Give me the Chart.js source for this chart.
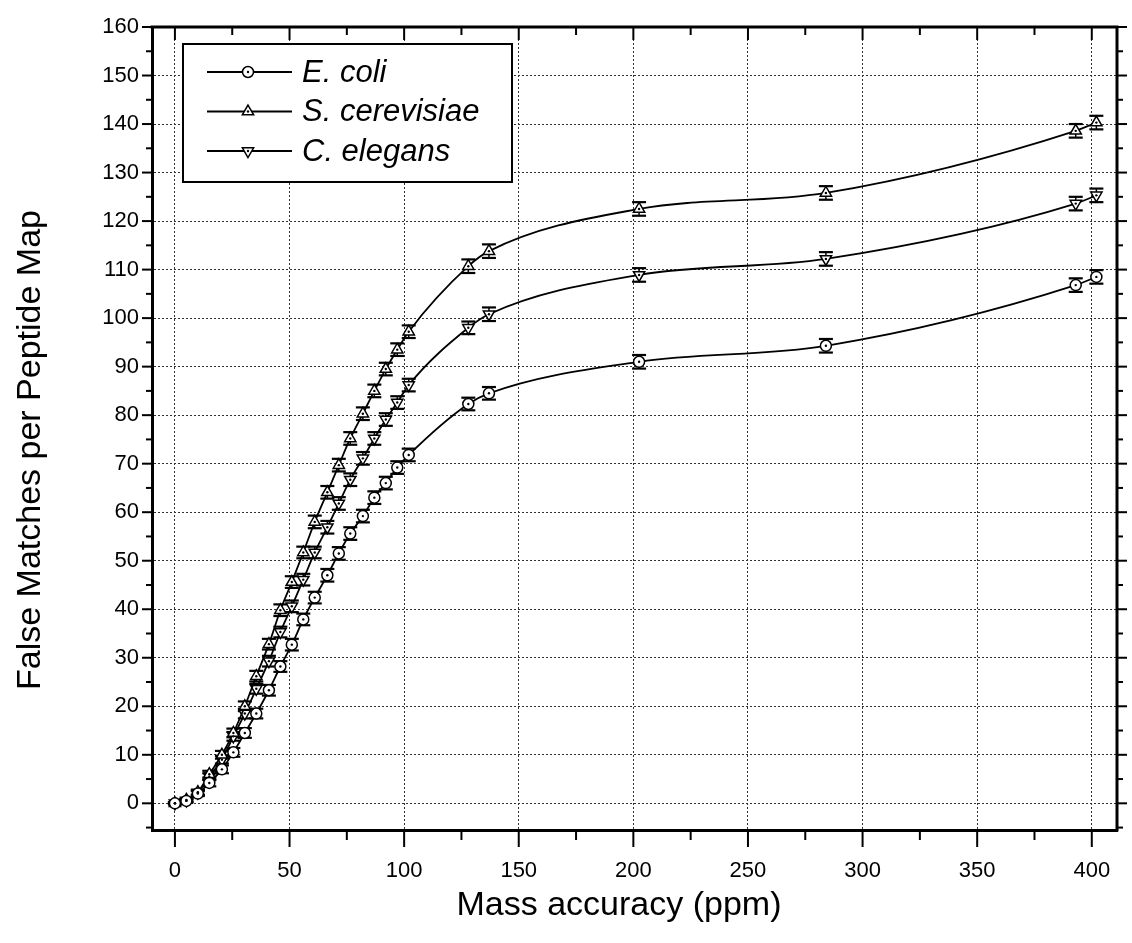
<!DOCTYPE html>
<html>
<head>
<meta charset="utf-8">
<title>False matches per peptide map vs mass accuracy</title>
<script src="https://cdn.jsdelivr.net/npm/chart.js@4.4.1/dist/chart.umd.min.js"></script>
<style>
  html, body { margin: 0; padding: 0; background: #fff; }
  #wrap { width: 1132px; height: 943px; }
</style>
</head>
<body>
<div id="wrap"><canvas id="fmChart" width="1132" height="943"></canvas></div>
<script>
// values (ppm on x, false matches on y)
const massPpm = [0, 5, 10, 15, 20.5, 25.5, 30.5, 35.5, 41, 46, 51, 56, 61, 66.5, 71.5, 76.5, 82, 87, 92, 97, 102, 128, 137, 202.5, 284, 393, 402];

const ecoli = [0, 0.5, 2, 4.2, 7, 10.5, 14.5, 18.5, 23.3, 28.2, 32.7, 37.9, 42.4, 47, 51.5, 55.6, 59.2, 63, 66, 69.2, 71.8, 82.3, 84.5, 91, 94.3, 106.8, 108.5];
const scerevisiae = [0, 0.7, 2.3, 6, 10, 14.5, 20, 26.2, 32.8, 39.8, 45.6, 51.7, 58, 64.1, 69.7, 75.2, 80.3, 85, 89.5, 93.5, 97.2, 110.7, 113.8, 122.5, 125.8, 138.6, 140.3];
const celegans = [0, 0.6, 2.2, 5.5, 9, 13.8, 18.5, 23.6, 29.3, 35.3, 40.6, 46.1, 51.7, 56.9, 61.8, 66.7, 71.1, 75.2, 79.1, 82.6, 86.2, 98, 100.8, 108.9, 112.2, 123.6, 125.3];

const ecoliErr = [0.2, 0.3, 0.5, 0.7, 0.8, 0.9, 1, 1, 1.1, 1.1, 1.2, 1.2, 1.2, 1.3, 1.3, 1.3, 1.3, 1.3, 1.3, 1.3, 1.3, 1.3, 1.3, 1.4, 1.4, 1.4, 1.4];
const scerevisiaeErr = [0.2, 0.3, 0.5, 0.7, 0.8, 0.9, 1, 1.1, 1.1, 1.2, 1.2, 1.2, 1.3, 1.3, 1.3, 1.3, 1.3, 1.3, 1.3, 1.3, 1.3, 1.4, 1.4, 1.4, 1.4, 1.4, 1.4];
const celegansErr = [0.2, 0.3, 0.5, 0.7, 0.8, 0.9, 1, 1, 1.1, 1.1, 1.2, 1.2, 1.2, 1.3, 1.3, 1.3, 1.3, 1.3, 1.3, 1.3, 1.3, 1.3, 1.4, 1.4, 1.4, 1.4, 1.4];

const xTickValues = [0, 50, 100, 150, 200, 250, 300, 350, 400];
const yTickValues = [0, 10, 20, 30, 40, 50, 60, 70, 80, 90, 100, 110, 120, 130, 140, 150, 160];

const xTitle = 'Mass accuracy (ppm)';
const yTitle = 'False Matches per Peptide Map';

const FONT = "'Liberation Sans', Arial, sans-serif";

const toPoints = (ys) => massPpm.map((x, i) => ({ x, y: ys[i] }));

const series = [
  { label: 'E. coli', data: ecoli, err: ecoliErr, style: 'circle', radius: 5.5, rotation: 0 },
  { label: 'S. cerevisiae', data: scerevisiae, err: scerevisiaeErr, style: 'triangle', radius: 6.5, rotation: 0 },
  { label: 'C. elegans', data: celegans, err: celegansErr, style: 'triangle', radius: 6.5, rotation: 180 },
];

function line(ctx, x1, y1, x2, y2) {
  ctx.beginPath();
  ctx.moveTo(x1, y1);
  ctx.lineTo(x2, y2);
  ctx.stroke();
}

// error bars go under the markers, the little centre dots on top
const errorBars = {
  id: 'errorBars',
  beforeDatasetsDraw(chart) {
    const { ctx, scales: { y } } = chart;
    ctx.save();
    ctx.strokeStyle = '#000';
    chart.data.datasets.forEach((ds, di) => {
      const meta = chart.getDatasetMeta(di);
      meta.data.forEach((pt, i) => {
        const e = ds.errorBars[i];
        const v = ds.data[i].y;
        const top = y.getPixelForValue(v + e);
        const bot = y.getPixelForValue(v - e);
        ctx.lineWidth = 1.5;
        line(ctx, pt.x, top, pt.x, bot);
        ctx.lineWidth = 2.2;
        line(ctx, pt.x - 7, top, pt.x + 7, top);
        line(ctx, pt.x - 7, bot, pt.x + 7, bot);
      });
    });
    ctx.restore();
  },
  afterDatasetsDraw(chart) {
    const { ctx } = chart;
    ctx.save();
    ctx.fillStyle = '#000';
    chart.data.datasets.forEach((ds, di) => {
      chart.getDatasetMeta(di).data.forEach((pt) => {
        ctx.beginPath();
        ctx.arc(pt.x, pt.y, 1.2, 0, Math.PI * 2);
        ctx.fill();
      });
    });
    ctx.restore();
  },
};

const frameAndTicks = {
  id: 'frameAndTicks',
  afterDraw(chart) {
    const { ctx, chartArea: a, scales: { x, y } } = chart;
    ctx.save();
    ctx.strokeStyle = '#000';
    ctx.lineWidth = 3;
    ctx.beginPath();
    ctx.moveTo(a.left - 1.5, a.top);
    ctx.lineTo(a.right, a.top);
    ctx.lineTo(a.right, a.bottom + 1.5);
    ctx.stroke();

    ctx.lineWidth = 2;
    xTickValues.forEach((v, i) => {
      const px = x.getPixelForValue(v);
      line(ctx, px, a.bottom, px, a.bottom + 17);
      line(ctx, px, a.top, px, a.top + 13);
      if (i < xTickValues.length - 1) {
        const mx = x.getPixelForValue((v + xTickValues[i + 1]) / 2);
        line(ctx, mx, a.bottom, mx, a.bottom + 10);
        line(ctx, mx, a.top, mx, a.top + 8);
      }
    });
    const yMinor = yTickValues.slice(1).map((v, i) => (v + yTickValues[i]) / 2);
    yMinor.unshift(yTickValues[0] - 5);
    yTickValues.forEach((v) => {
      const py = y.getPixelForValue(v);
      line(ctx, a.left - 10, py, a.left, py);
      line(ctx, a.right, py, a.right + 10, py);
    });
    yMinor.forEach((v) => {
      const py = y.getPixelForValue(v);
      line(ctx, a.left - 6, py, a.left, py);
      line(ctx, a.right, py, a.right + 6, py);
    });

    // axis titles
    ctx.fillStyle = '#000';
    ctx.font = `34px ${FONT}`;
    ctx.textAlign = 'center';
    ctx.textBaseline = 'middle';
    ctx.fillText(xTitle, 619, 906);
    ctx.translate(31, 450);
    ctx.rotate(-Math.PI / 2);
    ctx.fillText(yTitle, 0, 0);
    ctx.restore();
  },
};

const boxLegend = {
  id: 'boxLegend',
  afterDraw(chart) {
    const { ctx } = chart;
    const box = { x: 183, y: 44, w: 329, h: 138 };
    ctx.save();
    ctx.fillStyle = '#fff';
    ctx.fillRect(box.x, box.y, box.w, box.h);
    ctx.strokeStyle = '#000';
    ctx.lineWidth = 2;
    ctx.strokeRect(box.x, box.y, box.w, box.h);

    series.forEach((s, i) => {
      const cy = 72 + i * 39.5;
      ctx.strokeStyle = '#000';
      ctx.lineWidth = 1.8;
      line(ctx, 207, cy, 292, cy);
      ctx.fillStyle = '#fff';
      ctx.lineWidth = 1.5;
      Chart.helpers.drawPoint(ctx, { pointStyle: s.style, radius: s.radius, rotation: s.rotation, borderWidth: 1.5 }, 248, cy);
      ctx.fillStyle = '#000';
      ctx.beginPath();
      ctx.arc(248, cy, 1.2, 0, Math.PI * 2);
      ctx.fill();
      ctx.font = `italic 31px ${FONT}`;
      ctx.textAlign = 'left';
      ctx.textBaseline = 'middle';
      ctx.fillText(s.label, 302, cy + 1);
    });
    ctx.restore();
  },
};

new Chart(document.getElementById('fmChart'), {
  type: 'line',
  data: {
    datasets: series.map((s) => ({
      label: s.label,
      data: toPoints(s.data),
      errorBars: s.err,
      borderColor: '#000',
      borderWidth: 1.8,
      backgroundColor: '#fff',
      pointStyle: s.style,
      pointRotation: s.rotation,
      pointRadius: s.radius,
      pointBorderWidth: 1.5,
      pointBorderColor: '#000',
      pointBackgroundColor: '#fff',
      cubicInterpolationMode: 'monotone',
      fill: false,
    })),
  },
  plugins: [errorBars, frameAndTicks, boxLegend],
  options: {
    responsive: false,
    devicePixelRatio: 1,
    animation: false,
    layout: { padding: { top: 27, right: 15, left: 0, bottom: 0 } },
    plugins: { legend: { display: false }, tooltip: { enabled: false } },
    scales: {
      x: {
        type: 'linear',
        min: -10,
        max: 411,
        afterFit: (scale) => {
          scale.height = 113;
          scale.paddingLeft = 0;
          scale.paddingRight = 0;
        },
        afterBuildTicks: (scale) => { scale.ticks = xTickValues.map((v) => ({ value: v })); },
        ticks: { color: '#000', font: { family: FONT, size: 22 }, padding: 28, maxRotation: 0 },
        grid: { color: '#333', lineWidth: 1, drawTicks: false },
        border: { display: true, color: '#000', width: 3, dash: [2, 2] },
        title: { display: false },
      },
      y: {
        type: 'linear',
        min: -5.5,
        max: 160,
        afterFit: (scale) => {
          scale.width = 152;
          scale.paddingTop = 0;
          scale.paddingBottom = 0;
        },
        afterBuildTicks: (scale) => { scale.ticks = yTickValues.map((v) => ({ value: v })); },
        ticks: { color: '#000', font: { family: FONT, size: 22 }, padding: 13 },
        grid: { color: '#333', lineWidth: 1, drawTicks: false },
        border: { display: true, color: '#000', width: 3, dash: [2, 2] },
        title: { display: false },
      },
    },
  },
});
</script>
</body>
</html>
